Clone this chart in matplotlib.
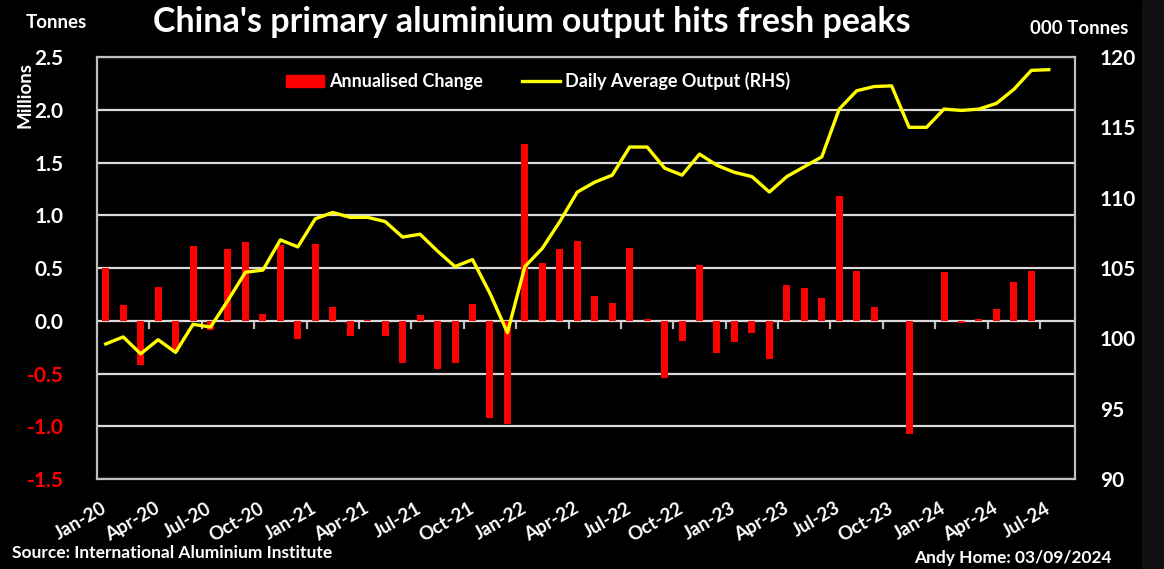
import numpy as np
import matplotlib
matplotlib.use('Agg')
import matplotlib.pyplot as plt
from matplotlib.patches import Patch, Rectangle
from matplotlib.lines import Line2D

plt.rcParams['font.family'] = ['Lato', 'DejaVu Sans']
plt.rcParams['font.weight'] = 'bold'

# Дані: щомісячно, Jan-20 .. Aug-24 (56 категорій на осі)
n_categories = 56
tick_labels = ['Jan-20', 'Apr-20', 'Jul-20', 'Oct-20', 'Jan-21', 'Apr-21', 'Jul-21',
               'Oct-21', 'Jan-22', 'Apr-22', 'Jul-22', 'Oct-22', 'Jan-23', 'Apr-23',
               'Jul-23', 'Oct-23', 'Jan-24', 'Apr-24', 'Jul-24']

# Annualised change, млн тонн (Jan-20 .. Jun-24)
annualised_change = [0.50, 0.15, -0.42, 0.32, -0.30, 0.71, -0.09, 0.68, 0.75, 0.06,
                     0.72, -0.17, 0.73, 0.13, -0.14, 0.01, -0.14, -0.40, 0.05, -0.46,
                     -0.40, 0.155, -0.92, -0.98, 1.68, 0.55, 0.68, 0.76, 0.23, 0.17,
                     0.69, 0.015, -0.54, -0.19, 0.53, -0.31, -0.20, -0.12, -0.36, 0.335,
                     0.31, 0.22, 1.18, 0.47, 0.13, 0.0, -1.07, 0.0, 0.46, -0.02,
                     0.02, 0.11, 0.37, 0.47]

# Daily average output, тис. тонн (Jan-20 .. Jul-24)
daily_avg = [99.6, 100.1, 98.9, 99.9, 99.0, 101.0, 100.8, 102.7, 104.7, 104.85,
             107.0, 106.5, 108.5, 108.95, 108.6, 108.6, 108.3, 107.2, 107.4, 106.2,
             105.1, 105.6, 103.2, 100.4, 105.1, 106.4, 108.3, 110.4, 111.1, 111.6,
             113.6, 113.6, 112.1, 111.6, 113.1, 112.3, 111.8, 111.5, 110.4, 111.5,
             112.2, 112.9, 116.3, 117.6, 117.9, 117.95, 115.0, 115.0, 116.3, 116.2,
             116.3, 116.7, 117.7, 119.05, 119.1]

grid_col = '#d9d9d9'
frame_col = '#bfbfbf'

fig = plt.figure(figsize=(11.64, 5.69), dpi=100, facecolor='black')
fig.patches.append(Rectangle((1142 / 1164, 0), 22 / 1164, 1, transform=fig.transFigure,
                             color='#101010', zorder=0))
ax = fig.add_axes([97 / 1164, 1 - 479 / 569, 978 / 1164, 422 / 569])
ax.set_facecolor('black')

x_bar = np.arange(len(annualised_change))
ax.bar(x_bar, annualised_change, width=0.4, color='#ff0000', zorder=3)

left_ticks = np.arange(-1.5, 2.51, 0.5)
ax.set_xlim(-0.5, n_categories - 0.5)
ax.set_ylim(-1.5, 2.5)
ax.set_yticks(left_ticks)
ax.set_yticklabels([f'{v:.1f}' for v in left_ticks])
for lbl, v in zip(ax.get_yticklabels(), left_ticks):
    lbl.set_color('#ff0000' if v < 0 else 'white')
    lbl.set_fontweight('bold')
ax.tick_params(axis='y', length=0, pad=24, labelsize=15)
ax.grid(axis='y', color=grid_col, linewidth=1.6, zorder=1)

ax.set_xticks(np.arange(0, n_categories, 3))
ax.set_xticklabels(tick_labels, rotation=30, ha='right', va='center',
                   rotation_mode='anchor', color='white', fontsize=13.5,
                   fontweight='bold')
ax.tick_params(axis='x', length=0, pad=20)

for s in ax.spines.values():
    s.set_color(frame_col)
    s.set_linewidth(1.6)

# риски на нульовій лінії
sec = ax.secondary_xaxis(1.5 / 4.0)
sec.set_xticks(np.arange(2.5, n_categories, 3))
sec.tick_params(axis='x', direction='out', length=6, width=1.6, color=frame_col,
                labelbottom=False, labeltop=False)
sec.spines['bottom'].set_visible(False)
sec.spines['top'].set_visible(False)

ax2 = ax.twinx()
x_line = np.arange(len(daily_avg))
ax2.plot(x_line, daily_avg, color='#ffff00', linewidth=2.4, zorder=4)
ax2.set_ylim(90, 120)
ax2.set_yticks(np.arange(90, 121, 5))
ax2.tick_params(axis='y', length=0, pad=18, labelsize=15, colors='white')
for lbl in ax2.get_yticklabels():
    lbl.set_fontweight('bold')
for s in ax2.spines.values():
    s.set_visible(False)

fig.text(0.457, 0.962, "China's primary aluminium output hits fresh peaks",
         color='white', fontsize=24.5, ha='center', va='center', fontweight='bold')
fig.text(56 / 1164, 1 - 23 / 569, 'Tonnes', color='white', fontsize=13.5,
         ha='center', va='center', fontweight='bold')
fig.text(25 / 1164, 1 - 95 / 569, 'Millions', color='white', fontsize=13.5,
         ha='center', va='center', rotation=90, fontweight='bold')
fig.text(1079 / 1164, 1 - 29 / 569, '000 Tonnes', color='white', fontsize=13.5,
         ha='center', va='center', fontweight='bold')
fig.text(12 / 1164, 1 - 553 / 569, 'Source: International Aluminium Institute',
         color='white', fontsize=12.5, ha='left', va='center', fontweight='bold')
fig.text(1112 / 1164, 1 - 558 / 569, 'Andy Home: 03/09/2024',
         color='white', fontsize=12.5, ha='right', va='center', fontweight='bold')

handles = [Patch(color='#ff0000'), Line2D([], [], color='#ffff00', linewidth=2.4)]
leg = fig.legend(handles, ['Annualised Change', 'Daily Average Output (RHS)'],
                 loc='center', bbox_to_anchor=(538 / 1164, 1 - 81 / 569), ncol=2,
                 frameon=False, handlelength=2.1, handleheight=0.65,
                 columnspacing=2.2, handletextpad=0.25,
                 prop={'size': 13, 'weight': 'bold'})
for t in leg.get_texts():
    t.set_color('white')

fig.savefig('out.png', dpi=100, facecolor='black')
